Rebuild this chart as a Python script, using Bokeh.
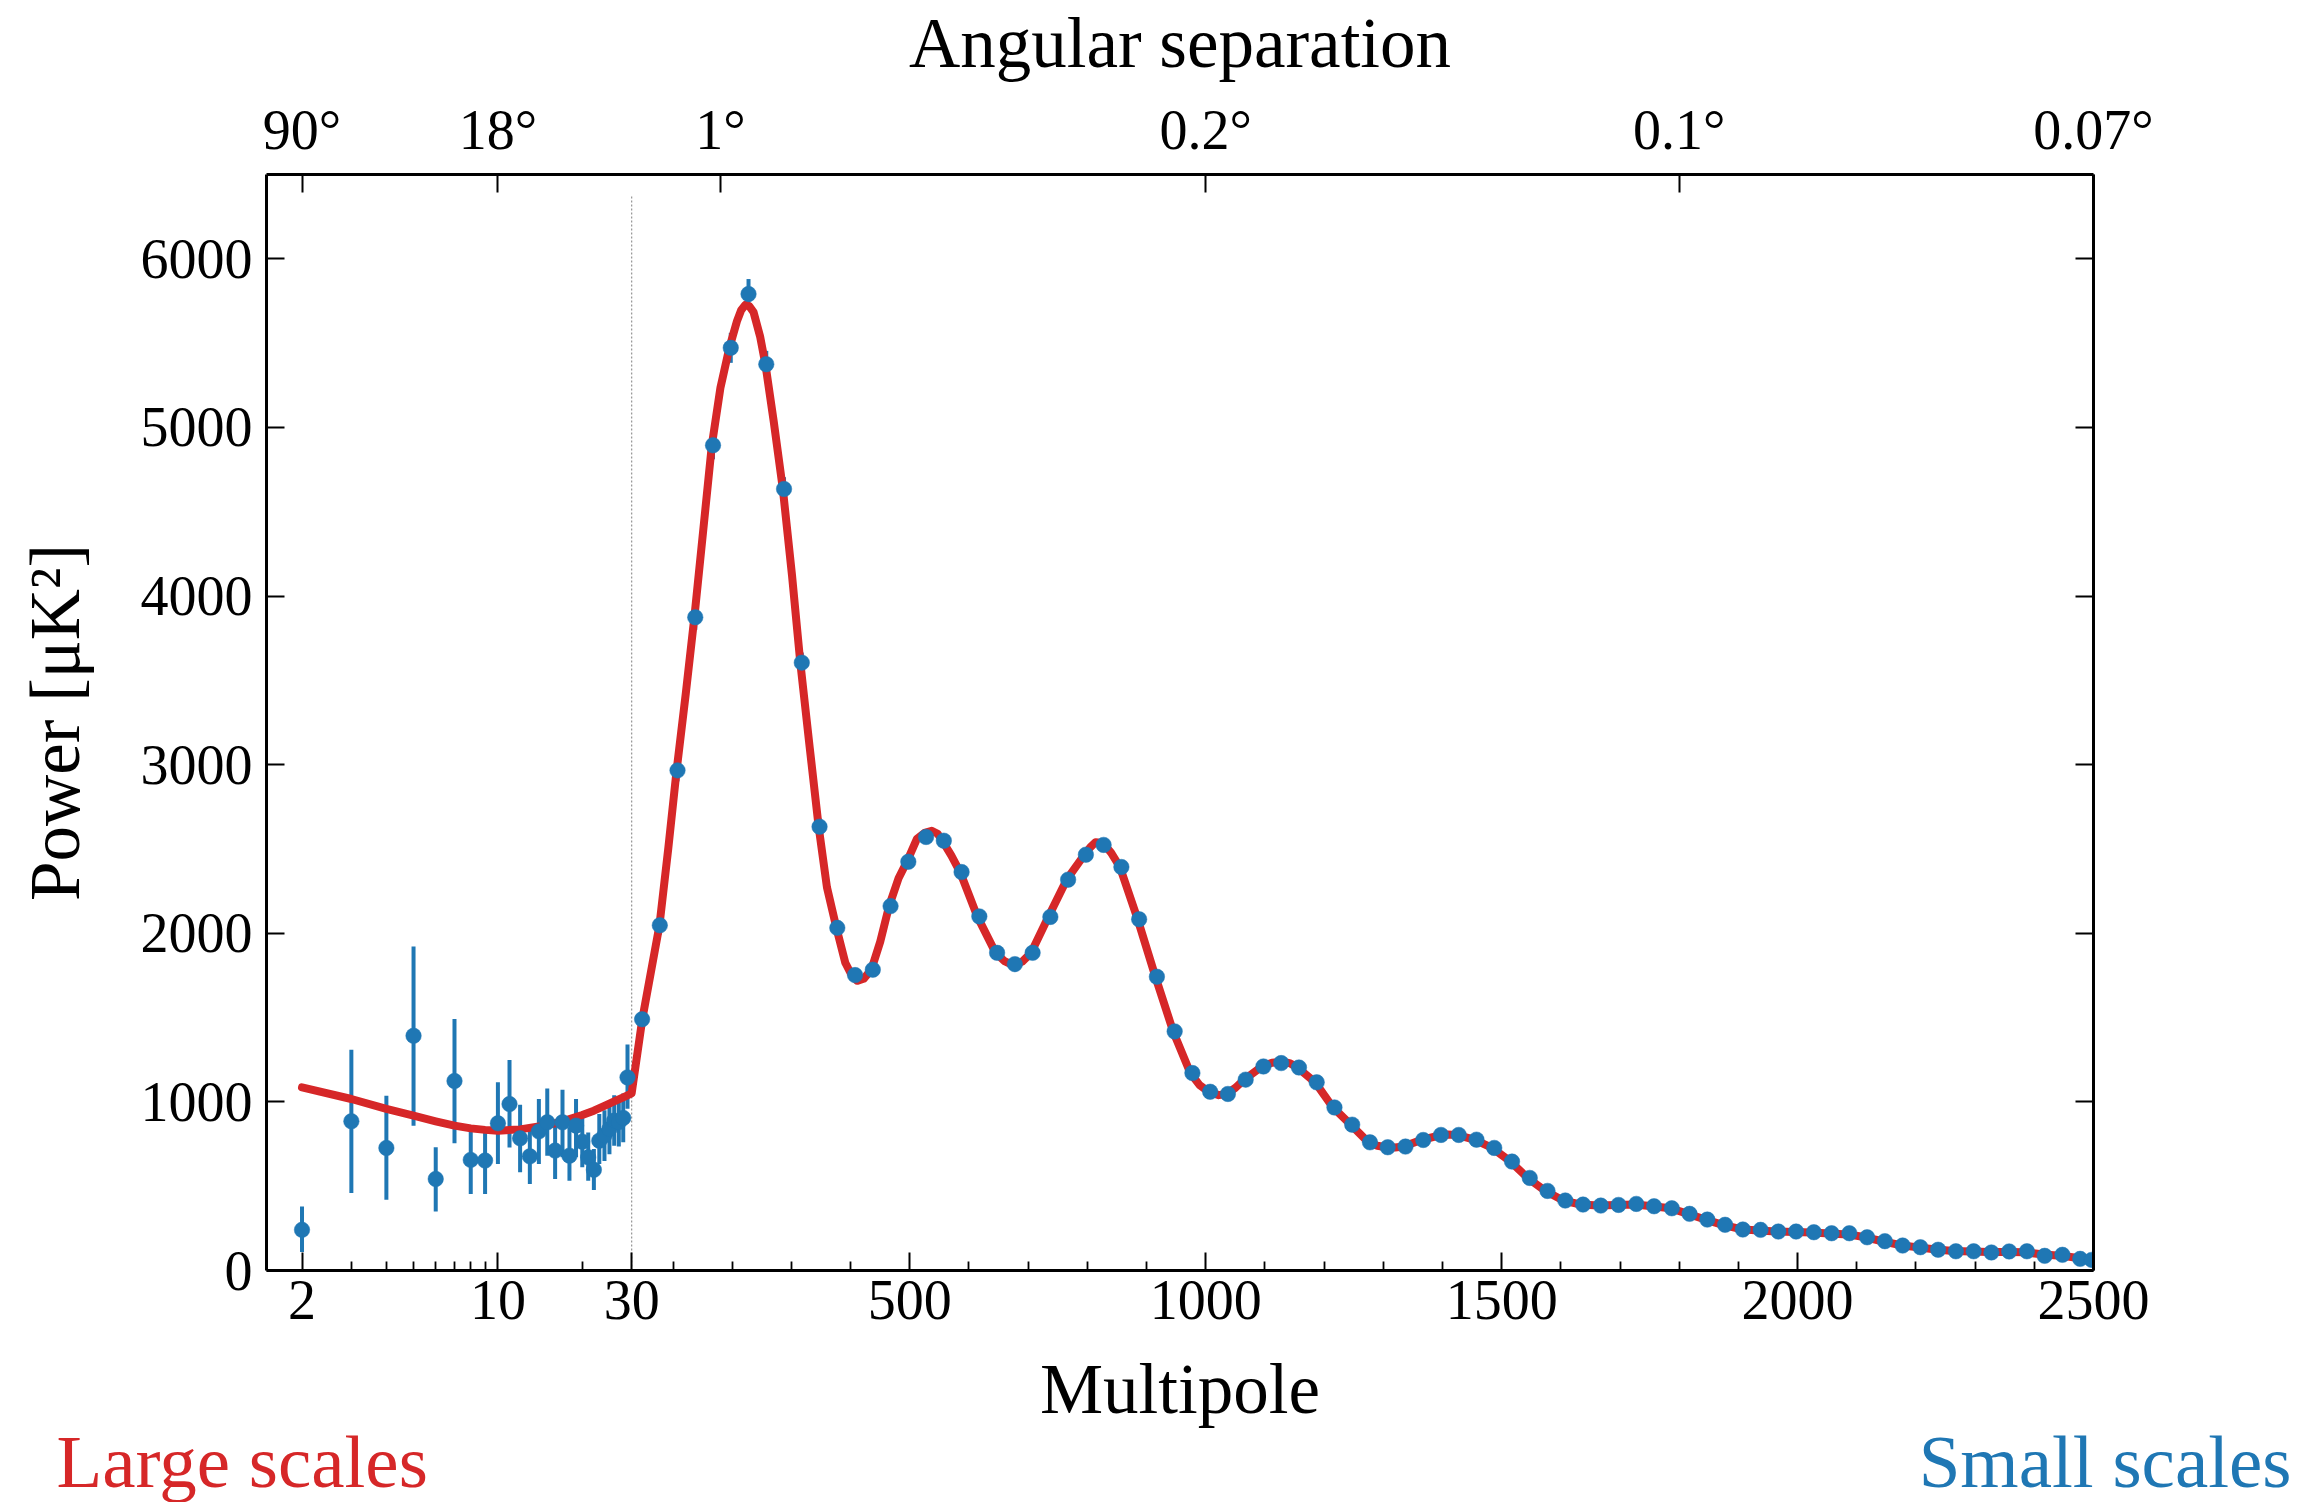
import numpy as np
from bokeh.plotting import figure
from bokeh.models import Range1d, LinearAxis, FixedTicker, Title
from bokeh.embed import file_html
from bokeh.resources import INLINE

# ---------------- data ----------------
# low multipoles (unbinned), with error-bar bounds
low_ell = [2, 3, 4, 5, 6, 7, 8, 9, 10, 11, 12, 13, 14, 15, 16, 17, 18, 19, 20,
           21, 22, 23, 24, 25, 26, 27, 28, 29]
low_power = [241, 885, 727, 1392, 543, 1124, 656, 652, 873, 987, 784, 677, 825,
             879, 711, 879, 681, 859, 764, 671, 597, 770, 800, 839, 889, 880,
             905, 1145]
low_lower = [109, 460, 419, 859, 350, 754, 454, 454, 632, 730, 582, 513, 632,
             681, 543, 671, 533, 671, 612, 533, 478, 632, 650, 690, 740, 735,
             760, 960]
low_upper = [379, 1309, 1037, 1921, 731, 1491, 829, 829, 1116, 1248, 983, 829,
             1017, 1080, 869, 1072, 849, 1017, 928, 819, 721, 928, 950, 990,
             1040, 1030, 1050, 1340]

# high multipoles (binned)
high_ell = [47.7, 77.6, 107.5, 137.5, 167.5, 197.5, 227.5, 257.5, 287.5, 317.5,
            347.5, 377.5, 407.5, 437.5, 467.5, 497.5, 527.5, 557.5, 587.5,
            617.5, 647.5, 677.5, 707.5, 737.5, 767.5, 797.5, 827.5, 857.5,
            887.5, 917.5, 947.5, 977.5, 1007.5, 1037.5, 1067.5, 1097.5, 1127.5,
            1157.5, 1187.5, 1217.5, 1247.5, 1277.5, 1307.5, 1337.5, 1367.5,
            1397.5, 1427.5, 1457.5, 1487.5, 1517.5, 1547.5, 1577.5, 1607.5,
            1637.5, 1667.5, 1697.5, 1727.5, 1757.5, 1787.5, 1817.5, 1847.5,
            1877.5, 1907.5, 1937.5, 1967.5, 1997.5, 2027.5, 2057.5, 2087.5,
            2117.5, 2147.5, 2177.5, 2207.5, 2237.5, 2267.5, 2297.5, 2327.5,
            2357.5, 2387.5, 2417.5, 2447.5, 2477.5, 2497.0]
high_power = [1490, 2047, 2966, 3874, 4894, 5472, 5791, 5375, 4635, 3605, 2632,
              2032, 1752, 1784, 2161, 2424, 2571, 2549, 2363, 2100, 1884, 1817,
              1884, 2097, 2318, 2466, 2524, 2393, 2083, 1742, 1418, 1171, 1060,
              1047, 1132, 1210, 1230, 1204, 1116, 967, 865, 760, 731, 735, 774,
              804, 804, 776, 727, 646, 549, 472, 415, 391, 385, 389, 395, 381,
              369, 336, 302, 271, 243, 241, 231, 231, 227, 221, 221, 197, 174,
              148, 138, 123, 114, 114, 107, 113, 114, 87, 93, 69, 63]
high_err = [45, 55, 65, 75, 83, 89, 89, 79, 70, 60, 50, 42, 36, 34, 34, 34, 32,
            32, 30, 28, 26, 25, 25, 25, 25, 25, 24, 23, 22, 20, 18, 16, 15, 15,
            15, 15, 15, 14, 13, 12, 12, 11, 11, 11, 11, 11, 11, 10, 10, 10, 9,
            9, 9, 9, 9, 9, 9, 9, 9, 9, 9, 9, 9, 9, 9, 9, 9, 9, 10, 10, 10, 10,
            10, 11, 11, 11, 12, 12, 12, 13, 13, 14, 15]

# best-fit model curve
model_ell = [2, 3, 4, 5, 6, 7, 8, 9, 10, 12, 14, 16, 18, 20, 22, 24, 26, 28, 30,
             48, 77, 92, 106, 121.5, 136, 151, 165.5, 180, 195, 208, 215, 222,
             229, 236, 247, 256, 270, 285.5, 301, 315, 331, 346, 360, 376, 391,
             401, 411, 422, 435, 450, 465, 481, 495, 512, 525, 537, 547, 555,
             570, 585, 614, 645, 660, 675, 690, 705, 734, 765, 795, 805, 814,
             826, 840, 855, 885, 915, 945, 974, 990, 1005, 1022, 1035, 1050,
             1065, 1095, 1112, 1130, 1143, 1155, 1185, 1215, 1245, 1275, 1290,
             1305, 1320, 1334, 1364, 1394, 1409, 1424, 1454, 1484, 1515, 1544,
             1574, 1604, 1634, 1664, 1694, 1725, 1755, 1785, 1815, 1844, 1874,
             1904, 1934, 1964, 1994, 2025, 2054, 2085, 2115, 2145, 2174, 2204,
             2234, 2264, 2294, 2324, 2355, 2385, 2415, 2445, 2474, 2500]
model_power = [1086, 1017, 958, 918, 885, 859, 843, 834, 829, 837, 855, 873,
               898, 922, 948, 977, 1003, 1027, 1050,
               1490, 2047, 2506, 2966, 3422, 3874, 4391, 4894, 5235, 5470, 5630,
               5695, 5727, 5718, 5684, 5540, 5375, 5037, 4635, 4122, 3605, 3098,
               2632, 2273, 2032, 1825, 1757, 1718, 1730, 1784, 1950, 2161, 2326,
               2424, 2560, 2596, 2608, 2590, 2549, 2462, 2363, 2100, 1884, 1835,
               1810, 1832, 1884, 2097, 2318, 2466, 2510, 2540, 2536, 2478, 2393,
               2083, 1742, 1418, 1171, 1098, 1060, 1040, 1047, 1083, 1132, 1210,
               1232, 1238, 1228, 1204, 1116, 967, 865, 760, 740, 731, 729, 735,
               774, 800, 806, 804, 776, 727, 646, 549, 472, 415, 391, 385, 389,
               392, 381, 369, 336, 302, 271, 245, 237, 231, 229, 225, 220, 214,
               197, 172, 150, 137, 124, 116, 112, 110, 110, 108, 95, 88, 74, 66]

bottom_ticks = [2, 10, 30, 500, 1000, 1500, 2000, 2500]
bottom_labels = ["2", "10", "30", "500", "1000", "1500", "2000", "2500"]
bottom_minor = [3, 4, 5, 6, 7, 8, 9, 20, 100, 200, 300, 400, 600, 700, 800, 900,
                1100, 1200, 1300, 1400, 1600, 1700, 1800, 1900, 2100, 2200,
                2300, 2400]
top_ticks = [2, 10, 180, 1000, 1800, 2500]
top_labels = ["90°", "18°", "1°", "0.2°", "0.1°", "0.07°"]
y_ticks = [0, 1000, 2000, 3000, 4000, 5000, 6000]

# ---------------- hybrid x scale: log below l=30, linear above ----------------
LOG_PX = 280.2
LIN_PX = 0.5917
L_SPLIT = 30.0


def u(ell):
    ell = np.asarray(ell, dtype=float)
    return np.round(LOG_PX * np.log10(np.minimum(ell, L_SPLIT))
                    + LIN_PX * np.maximum(ell - L_SPLIT, 0.0), 4)


BLUE = "#1f77b4"
RED = "#d62728"
FONT = "Liberation Serif"

x_lo = float(u(2)) - 35.5
x_hi = float(u(2500))

p = figure(width=2322, height=1502, output_backend="svg", toolbar_location=None,
           x_range=Range1d(x_lo, x_hi), y_range=Range1d(0, 6500),
           min_border_left=266, min_border_right=229, min_border_top=172,
           min_border_bottom=232, background_fill_color="white",
           border_fill_color="white")
p.grid.visible = False
p.outline_line_color = None


def style(ax, tick_len=18, minor_len=9):
    ax.axis_line_width = 3
    ax.axis_line_color = "black"
    ax.major_tick_line_width = 2
    ax.minor_tick_line_width = 1.8
    ax.major_tick_line_color = "black"
    ax.minor_tick_line_color = "black"
    ax.major_tick_in = tick_len
    ax.major_tick_out = 0
    ax.minor_tick_in = minor_len
    ax.minor_tick_out = 0
    ax.major_label_text_font = FONT
    ax.major_label_text_font_size = "56px"
    ax.major_label_text_color = "black"
    ax.axis_label_text_font = FONT
    ax.axis_label_text_font_size = "71px"
    ax.axis_label_text_font_style = "normal"
    ax.axis_label_text_color = "black"


xb = p.xaxis[0]
xb.ticker = FixedTicker(ticks=[float(v) for v in u(bottom_ticks)],
                        minor_ticks=[float(v) for v in u(bottom_minor)])
xb.major_label_overrides = {float(v): s for v, s in zip(u(bottom_ticks), bottom_labels)}
xb.axis_label = "Multipole"
style(xb)
xb.major_label_standoff = 10
xb.axis_label_standoff = 28

yl = p.yaxis[0]
yl.ticker = FixedTicker(ticks=y_ticks, minor_ticks=[])
yl.axis_label = "Power [μK²]"
style(yl)
yl.major_label_standoff = 14
yl.axis_label_standoff = 44

top = LinearAxis(ticker=FixedTicker(ticks=[float(v) for v in u(top_ticks)], minor_ticks=[]),
                 major_label_overrides={float(v): s for v, s in zip(u(top_ticks), top_labels)},
                 axis_label="Angular separation")
style(top)
top.major_label_standoff = 14
top.axis_label_standoff = 14
p.add_layout(top, "above")

right = LinearAxis(ticker=FixedTicker(ticks=y_ticks, minor_ticks=[]),
                   major_label_overrides={v: "" for v in y_ticks})
style(right)
p.add_layout(right, "right")

# split marker at l = 30
p.segment(x0=[float(u(30))], y0=[0], x1=[float(u(30))], y1=[6380],
          line_color="#9a9a9a", line_width=1.3, line_dash="2 2")

# error bars
p.segment(x0=u(low_ell), y0=low_lower, x1=u(low_ell), y1=low_upper,
          line_color=BLUE, line_width=4)
hp = np.array(high_power, float)
he = np.array(high_err, float)
p.segment(x0=u(high_ell), y0=hp - he, x1=u(high_ell), y1=hp + he,
          line_color=BLUE, line_width=4)

# model curve
p.line(u(model_ell), model_power, line_color=RED, line_width=8,
       line_join="round", line_cap="round")

# data points
p.scatter(u(low_ell), low_power, size=15.5, fill_color=BLUE, line_color=BLUE,
          line_width=0.5)
p.scatter(u(high_ell), high_power, size=15.5, fill_color=BLUE, line_color=BLUE,
          line_width=0.5)

# corner captions (below the multipole axis, sharing one row)
t_large = Title(text="Large scales", text_font=FONT, text_font_size="75px",
                text_font_style="normal", text_color=RED, align="left",
                offset=-210, standoff=-144)
t_small = Title(text="Small scales", text_font=FONT, text_font_size="75px",
                text_font_style="normal", text_color=BLUE, align="right",
                offset=-198, standoff=-144)
p.add_layout(t_large, "below")
p.add_layout(t_small, "below")

open("out.html", "w").write(file_html(p, INLINE))
